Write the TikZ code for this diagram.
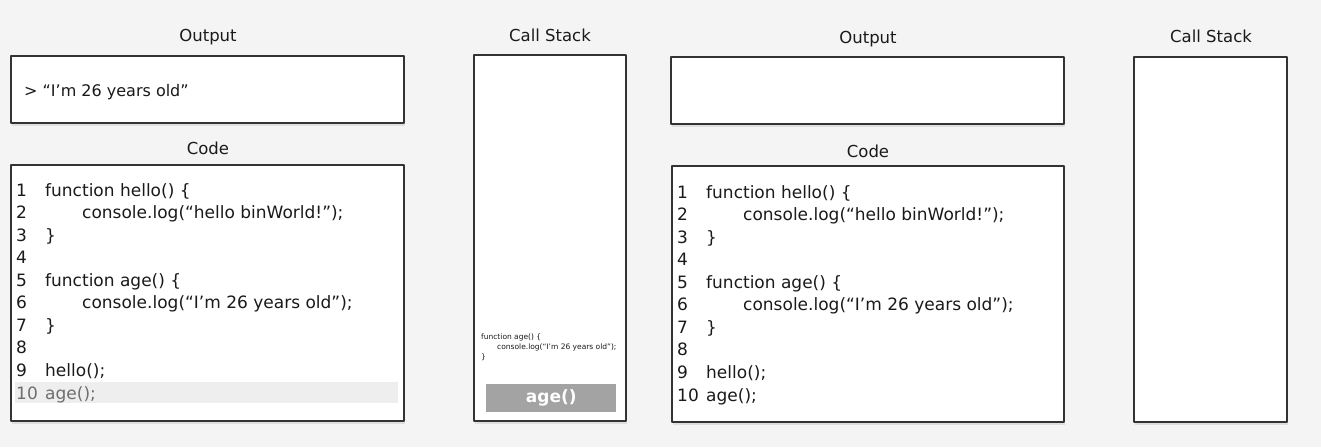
\documentclass[tikz,border=0pt]{standalone}
\usepackage{fontspec}
\setmainfont{DejaVu Sans}
\usetikzlibrary{shadows}
\definecolor{bg}{HTML}{F4F4F4}
\definecolor{edge}{HTML}{333333}
\definecolor{codeink}{HTML}{1A1A1A}
\definecolor{codegray}{HTML}{6E6E6E}
\definecolor{hl}{HTML}{EEEEEE}
\definecolor{stackgray}{HTML}{A3A3A3}
\tikzset{
  every picture/.style={line join=round},
  panel/.style={draw=edge, line width=1.3pt, fill=white, anchor=north west,
    inner sep=0pt, outer sep=0pt,
    drop shadow={shadow xshift=1pt, shadow yshift=-2.5pt, opacity=0.18}},
  title/.style={font=\fontsize{16.5}{20}\selectfont, text=codeink, inner sep=0pt},
  code/.style={font=\fontsize{17}{20}\selectfont, text=codeink, anchor=base west, inner sep=0pt},
  tiny/.style={font=\fontsize{7.5}{9}\selectfont, text=codeink, anchor=base west, inner sep=0pt},
}

\begin{document}
\begin{tikzpicture}[x=1pt,y=-1pt]
\useasboundingbox[fill=bg] (0,0) rectangle (1321,447);
% titles
\node[title] (outTitleL) at (208,37.5) {Output};
\node[title] (codeTitleL) at (208,148.5) {Code};
\node[title] (stackTitleL) at (550,35.5) {Call Stack};
\node[title] (outTitleR) at (868,39) {Output};
\node[title] (codeTitleR) at (868,151) {Code};
\node[title] (stackTitleR) at (1211,36.5) {Call Stack};
% panels
\node[panel, minimum width=393pt, minimum height=67pt] (outL) at (11,56) {};
\node[panel, minimum width=393pt, minimum height=256pt] (codeL) at (11,165) {};
\node[panel, minimum width=152pt, minimum height=366pt] (stackL) at (474,55) {};
\node[panel, minimum width=393pt, minimum height=67pt] (outR) at (671,57) {};
\node[panel, minimum width=392pt, minimum height=256pt] (codeR) at (672,166) {};
\node[panel, minimum width=153pt, minimum height=365pt] (stackR) at (1134,57) {};
% current line
\node[fill=hl, anchor=north west, inner sep=0pt, minimum width=383pt, minimum height=21pt] (hlLine) at (15,382) {};
% output
\node[code, font=\fontsize{16}{19}\selectfont] (outText) at (24,96) {> “I’m 26 years old”};
% code listings
\foreach \sx/\sy/\pn/\col in {0/0/L/codegray, 661/2/R/codeink}{
  \begin{scope}[shift={(\sx,\sy)}]
  \foreach \n/\ix/\txt in {1/0/function hello() \{, 2/37/console.log(“hello binWorld!”);,
      3/0/\}, 4/0/, 5/0/function age() \{, 6/37/console.log(“I’m 26 years old”);,
      7/0/\}, 8/0/, 9/0/hello();}{
    \node[code] (num\pn\n) at ({16},{196+22.55*(\n-1)}) {\n};
    \node[code] (ln\pn\n) at ({45+\ix},{196+22.55*(\n-1)}) {\txt};
  }
  \node[code, text=\col] (num\pn10) at (16,399) {10};
  \node[code, text=\col] (ln\pn10) at (45,399) {age();};
  \end{scope}
}
% call stack frame
\node[tiny] (frame1) at (481,339.5) {function age() \{};
\node[tiny] (frame2) at (497,349.5) {console.log(“I’m 26 years old”);};
\node[tiny] (frame3) at (481,359.5) {\}};
\node[fill=stackgray, anchor=north west, inner sep=0pt, minimum width=130pt, minimum height=28pt,
  text=white, font=\bfseries\fontsize{17}{20}\selectfont] (callAge) at (486,384) {age()};
\end{tikzpicture}
\end{document}
